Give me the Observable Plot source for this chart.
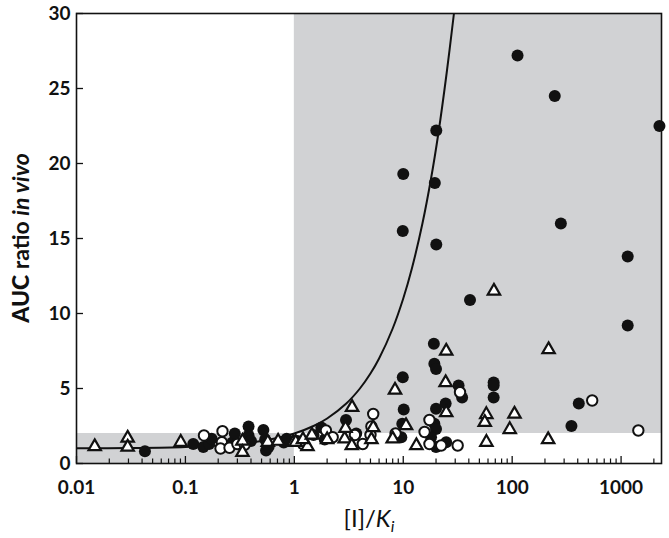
<!DOCTYPE html>
<html><head><meta charset="utf-8">
<script src="https://cdn.jsdelivr.net/npm/d3@7"></script>
<script src="https://cdn.jsdelivr.net/npm/@observablehq/plot@0.6"></script>
<style>body{margin:0;background:#fff}</style>
</head><body><div id="chart"></div>
<script>
// Filled circles
const filledX = [0.0425,0.118,0.146,0.165,0.174,0.27,0.284,0.38,0.38,0.40,0.52,0.54,0.55,0.58,0.8,0.85,1.07,1.5,1.77,1.9,2.98,3.7,10,9.9,9.9,10.1,9.8,9.6,20.1,19.5,20.1,19.1,19.3,20,20,19.3,20,18,20,24.8,24.5,32.2,34.7,41,67.6,67.6,67.6,112,246,280,1150,1150,2250,350,409];
const filledY = [0.82,1.3,1.1,1.3,1.65,1.4,2.0,2.47,1.87,1.5,2.24,1.6,0.87,1.1,1.4,1.65,1.5,1.9,2.4,1.6,2.9,2.0,19.3,15.5,5.75,3.6,2.65,1.75,22.2,18.7,14.6,7.98,6.65,6.3,3.65,2.65,2.3,1.75,1.1,1.42,4.0,5.2,4.4,10.9,5.4,5.2,4.4,27.2,24.5,16.0,13.8,9.2,22.5,2.5,4.0];
// Open circles
const openX = [0.148,0.216,0.21,0.219,0.254,0.3,0.35,1.2,1.95,2.25,3.6,4.25,5.1,5.3,5.0,8.5,15.7,17.4,17.4,22.3,31.6,33.2,543,1440];
const openY = [1.87,1.42,1.0,2.15,1.05,1.3,1.25,1.3,2.2,1.75,1.9,1.3,2.47,3.3,1.9,2.0,2.1,2.9,1.3,1.2,1.2,4.75,4.2,2.2];
// Open triangles
const triX = [0.0147,0.0295,0.0295,0.0906,0.334,0.334,0.57,0.71,0.98,1.03,1.32,1.2,1.45,2.0,2.9,2.95,3.37,3.39,5.1,5.3,8.0,8.4,10.6,13.2,24.8,24.5,24.8,57.9,56,58,68,95,105,216,214];
const triY = [1.13,1.7,1.1,1.42,1.5,0.75,1.42,1.49,1.42,1.42,1.13,1.6,1.9,1.6,1.65,2.35,1.2,3.75,1.6,2.4,1.65,4.9,2.53,1.2,7.5,5.4,3.4,3.27,2.75,1.42,11.5,2.27,3.3,7.6,1.6];
// Reference curve
const curveX = [0.01,0.03,0.1,0.3,0.5,1,1.5,2,3,4,5,6,8,10,12,15,18,21,25,29.2];
const curveY = [1.01,1.03,1.1,1.3,1.5,2,2.5,3,4,5,6,7,9,11,13,16,19,22,26,30];
// Shaded regions
const shadeX1 = [0.01, 1];
const shadeX2 = [1, 2350];
const shadeY1 = [0, 2];
const shadeY2 = [2, 30];
// Axes
const xDomain = [0.01, 2350];
const yDomain = [0, 30];
const xTicks = [0.01, 0.1, 1, 10, 100, 1000];
const xTickLabels = ["0.01", "0.1", "1", "10", "100", "1000"];
const yTicks = [0, 5, 10, 15, 20, 25, 30];

const pts = (xs, ys) => xs.map((x, i) => ({x, y: ys[i]}));
const filled = pts(filledX, filledY);
const open = pts(openX, openY);
const tri = pts(triX, triY);
const curve = pts(curveX, curveY);
const shades = shadeX1.map((x1, i) => ({x1, x2: shadeX2[i], y1: shadeY1[i], y2: shadeY2[i]}));
const minorTicks = d3.scaleLog().domain(xDomain).ticks().filter(d => !xTicks.includes(d));

const W = 669, H = 538, mL = 76, mR = 8, mT = 13, mB = 75;
const plotW = W - mL - mR, plotH = H - mT - mB;

const plot = Plot.plot({
  width: W, height: H,
  marginLeft: mL, marginRight: mR, marginTop: mT, marginBottom: mB,
  style: {fontFamily: "Lato", fontSize: "19px", fontWeight: 700, color: "#111", background: "#fff"},
  x: {type: "log", domain: xDomain},
  y: {domain: yDomain},
  marks: [
    Plot.rect(shades, {x1: "x1", x2: "x2", y1: "y1", y2: "y2", fill: "#d1d2d4"}),
    Plot.line(curve, {x: "x", y: "y", curve: "catmull-rom", stroke: "#111", strokeWidth: 2, clip: true}),
    Plot.dot(filled, {x: "x", y: "y", r: 6, fill: "#111"}),
    Plot.dot(open, {x: "x", y: "y", r: 5.2, fill: "#fff", stroke: "#111", strokeWidth: 2}),
    Plot.dot(tri, {x: "x", y: "y", symbol: "triangle", r: 4.6, fill: "#fff", stroke: "#111", strokeWidth: 2.2}),
    // inward ticks
    Plot.tickX(xTicks, {x: d => d, insetTop: plotH - 7, stroke: "#111", strokeWidth: 1.3}),
    Plot.tickX(minorTicks, {x: d => d, insetTop: plotH - 4.5, stroke: "#111", strokeWidth: 1.2}),
    Plot.tickY(yTicks, {y: d => d, insetRight: plotW - 7, stroke: "#111", strokeWidth: 1.3}),
    Plot.axisX(xTicks, {tickSize: 0, tickPadding: 17, tickFormat: d => xTickLabels[xTicks.indexOf(d)], label: null}),
    Plot.axisY(yTicks, {tickSize: 0, tickPadding: 6, label: null}),
    Plot.frame({stroke: "#111", strokeWidth: 1.6})
  ]
});
document.getElementById("chart").append(plot);

const svg = d3.select(plot);
const yl = svg.append("text")
  .attr("transform", "translate(29,238) rotate(-90)")
  .attr("text-anchor", "middle")
  .style("font-family", "Lato").style("font-size", "23px").style("fill", "#111");
yl.append("tspan").style("font-weight", 900).text("AUC ");
yl.append("tspan").style("font-weight", 700).text("ratio ");
yl.append("tspan").style("font-weight", 700).style("font-style", "italic").text("in vivo");

const xl = svg.append("text")
  .attr("x", 369).attr("y", 527)
  .attr("text-anchor", "middle")
  .style("font-family", "Lato").style("font-size", "24px").style("font-weight", 400).style("fill", "#111");
xl.append("tspan").text("[I]/");
xl.append("tspan").style("font-style", "italic").text("K");
xl.append("tspan").style("font-style", "italic").style("font-size", "16px").attr("dy", 5).text("i");
</script>
</body></html>
